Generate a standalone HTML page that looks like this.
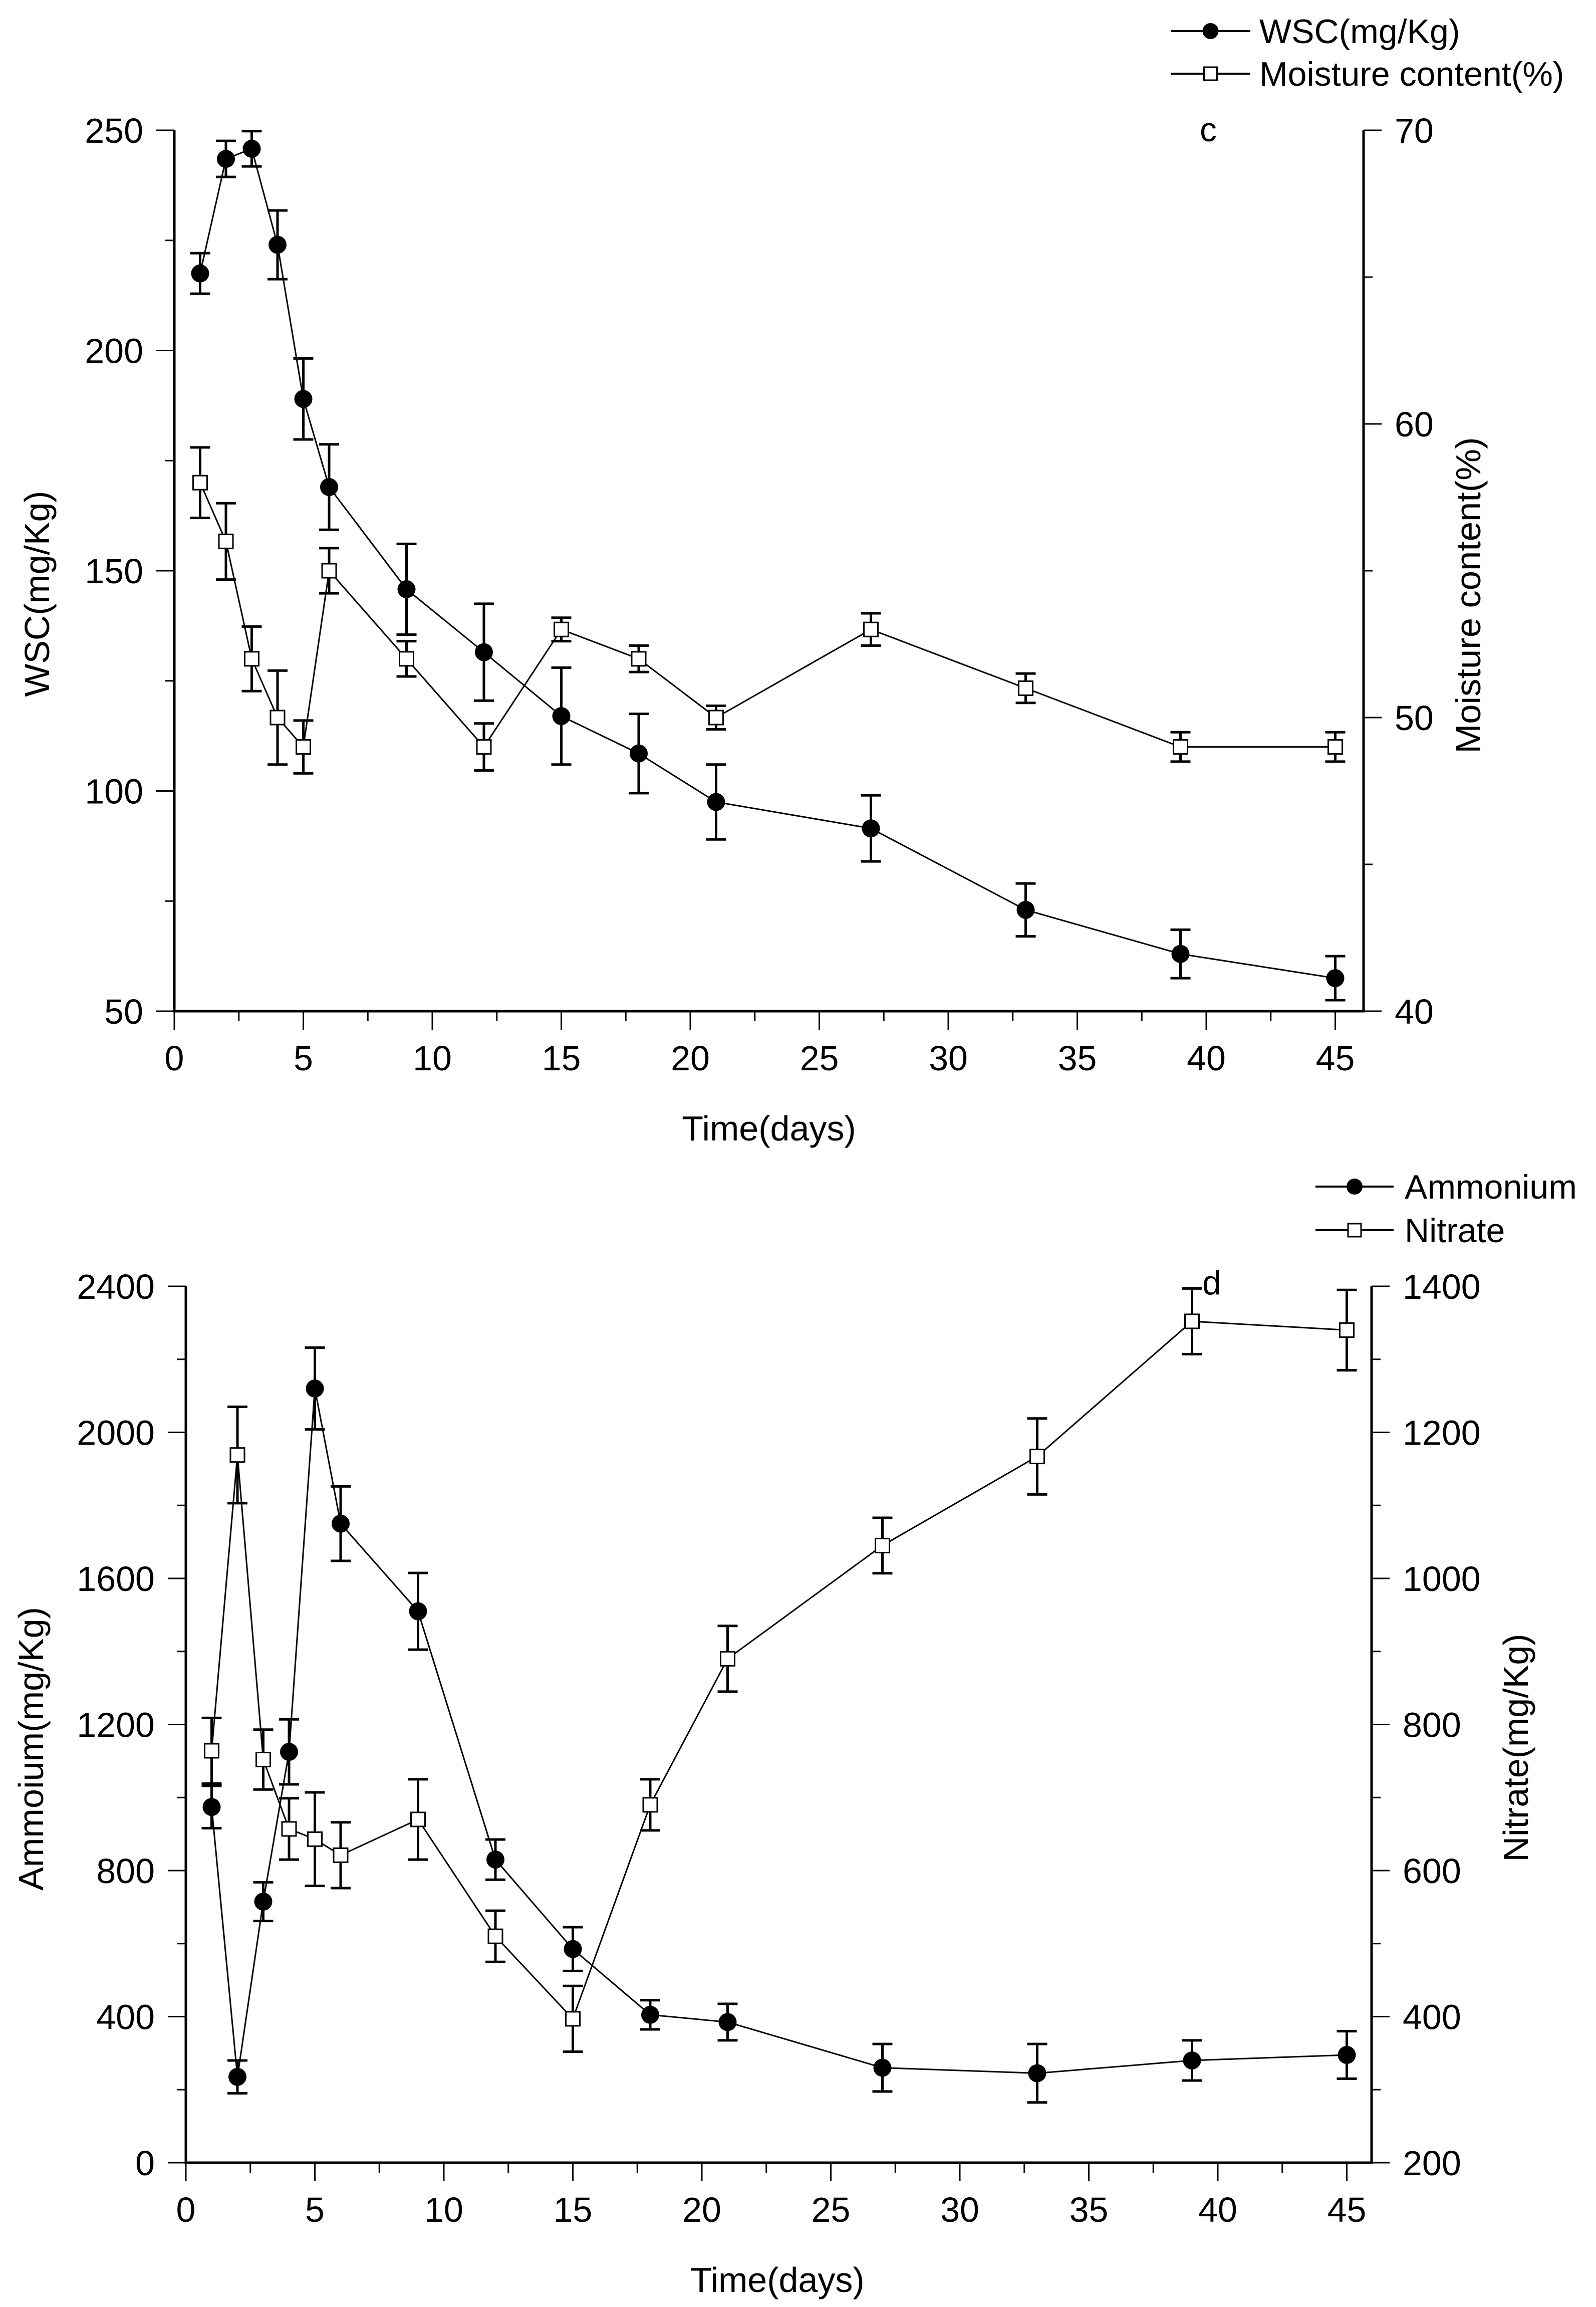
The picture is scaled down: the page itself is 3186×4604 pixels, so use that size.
<!DOCTYPE html>
<html><head><meta charset="utf-8"><style>
html,body{margin:0;padding:0;background:#fff}
svg{display:block}
text{font-family:"Liberation Sans",Arial,sans-serif;fill:#000}
</style></head>
<body>
<svg id="fig" xmlns="http://www.w3.org/2000/svg" width="3186" height="4604" viewBox="0 0 3186 4604">
<rect width="3186" height="4604" fill="#fff"/>
<g id="top"></g>
<g id="bot"></g>
</svg>
<script>
const days = [1,2,3,4,5,6,9,12,15,18,21,27,33,39,45];
const wscValues = [217.5,243.5,245.8,224,189,169,145.8,131.5,117,108.5,97.5,91.5,73,63,57.5];
const wscErrors = [4.6,4.1,4,7.8,9.2,9.7,10.3,11,11,9,8.5,7.5,6,5.5,5];
const moistureValues = [58,56,52,50,49,55,52,49,53,52,50,53,51,49,49];
const moistureErrors = [1.2,1.3,1.1,1.6,0.9,0.77,0.6,0.8,0.4,0.45,0.4,0.55,0.5,0.5,0.5];
const ammoniumValues = [974,235,715,1125,2120,1750,1510,830,585,405,385,260,245,280,295];
const ammoniumErrors = [58,45,53,89,112,102,105,55,60,40,50,65,80,55,65];
const nitrateValues = [764,1169,752,657,643,621,670,510,397,690,890,1045,1167,1352,1340];
const nitrateErrors = [45,66,41,42,64,45,55,35,45,35,45,38,52,45,55];
const xTicks = [0,5,10,15,20,25,30,35,40,45];
const wscTicks = [50,100,150,200,250];
const moistureTicks = [40,50,60,70];
const ammoniumTicks = [0,400,800,1200,1600,2000,2400];
const nitrateTicks = [200,400,600,800,1000,1200,1400];

const NS="http://www.w3.org/2000/svg";
function mk(parent,tag,attrs,txt){const e=document.createElementNS(NS,tag);for(const k in attrs)e.setAttribute(k,attrs[k]);if(txt!==undefined)e.textContent=txt;parent.appendChild(e);return e;}

function chart(g,cfg){
  const X=d=>cfg.x0+d*cfg.dx;
  const YL=v=>cfg.bottom-(v-cfg.lmin)/(cfg.lmax-cfg.lmin)*(cfg.bottom-cfg.top);
  const YR=v=>cfg.bottom-(v-cfg.rmin)/(cfg.rmax-cfg.rmin)*(cfg.bottom-cfg.top);
  // axes
  const ax=mk(g,'path',{d:`M${cfg.left},${cfg.top}V${cfg.bottom}H${cfg.right}V${cfg.top}`,fill:'none',stroke:'#000','stroke-width':5});
  
  
  // x ticks
  for(let d=0;d<=45;d+=2.5){const maj=d%5===0;mk(g,'line',{x1:X(d),x2:X(d),y1:cfg.bottom,y2:cfg.bottom+(maj?37:20),stroke:'#000','stroke-width':3});}
  xTicks.forEach(t=>{const e=mk(g,'text',{x:X(t),y:cfg.bottom+118,'font-size':70,'text-anchor':'middle'},String(t));
    
    });
  // left ticks
  const lstep=cfg.lTicks[1]-cfg.lTicks[0];
  for(let v=cfg.lmin;v<=cfg.lmax+1e-6;v+=lstep/2){const maj=Math.abs(((v-cfg.lmin)/lstep)%1)<1e-6;mk(g,'line',{x1:cfg.left,x2:cfg.left-(maj?36:18),y1:YL(v),y2:YL(v),stroke:'#000','stroke-width':3});}
  cfg.lTicks.forEach(t=>{const e=mk(g,'text',{x:cfg.left-62,y:YL(t)+25,'font-size':70,'text-anchor':'end'},String(t));
    
    });
  const rstep=cfg.rTicks[1]-cfg.rTicks[0];
  for(let v=cfg.rmin;v<=cfg.rmax+1e-6;v+=rstep/2){const maj=Math.abs(((v-cfg.rmin)/rstep)%1)<1e-6;mk(g,'line',{x1:cfg.right,x2:cfg.right+(maj?36:18),y1:YR(v),y2:YR(v),stroke:'#000','stroke-width':3});}
  cfg.rTicks.forEach(t=>{const e=mk(g,'text',{x:cfg.right+62,y:YR(t)+25,'font-size':70,'text-anchor':'start'},String(t));
    
    });
  // titles
  let e=mk(g,'text',{x:cfg.xtX,y:cfg.bottom+258,'font-size':70,'text-anchor':'middle'},'Time(days)');
  
  
  e=mk(g,'text',{x:0,y:0,'font-size':70,'text-anchor':'middle',transform:`translate(${cfg.ltX},${cfg.ltY}) rotate(-90)`,textLength:cfg.ltLen,lengthAdjust:'spacingAndGlyphs'},cfg.lTitle);
  
  
  e=mk(g,'text',{x:0,y:0,'font-size':70,'text-anchor':'middle',transform:`translate(${cfg.rtX},${cfg.rtY}) rotate(-90)`,textLength:cfg.rtLen,lengthAdjust:'spacingAndGlyphs'},cfg.rTitle);
  
  
  e=mk(g,'text',{x:cfg.panelX,y:cfg.panelY,'font-size':68},cfg.panel);
  
  
  // series
  function series(vals,errs,Y,filled,name){
    const sg=mk(g,'g',{});
    
    
    vals.forEach((v,i)=>{const x=X(days[i]),y1=Y(v+errs[i]),y2=Y(v-errs[i]);
      mk(sg,'path',{d:`M${x-20},${y1}H${x+20}M${x},${y1}V${y2}M${x-20},${y2}H${x+20}`,stroke:'#000','stroke-width':5,fill:'none'});});
    const l=mk(sg,'polyline',{points:vals.map((v,i)=>X(days[i])+','+Y(v)).join(' '),fill:'none',stroke:'#000','stroke-width':3});
    
    
    vals.forEach((v,i)=>{let m;
      if(filled)m=mk(sg,'circle',{cx:X(days[i]),cy:Y(v),r:18,fill:'#000'});
      else m=mk(sg,'rect',{x:X(days[i])-14,y:Y(v)-14,width:28,height:28,fill:'#fff',stroke:'#000','stroke-width':3});
      
      });
  }
  series(cfg.lVals,cfg.lErr,YL,true,cfg.lName);
  series(cfg.rVals,cfg.rErr,YR,false,cfg.rName);
  // legend
  cfg.legend.forEach((it,k)=>{const lg=mk(g,'g',{});
    
    
    const y=cfg.legY[k];
    mk(lg,'line',{x1:cfg.legX1,x2:cfg.legX2,y1:y,y2:y,stroke:'#000','stroke-width':4});
    const mx=(cfg.legX1+cfg.legX2)/2;
    if(it.filled)mk(lg,'circle',{cx:mx,cy:y,r:16,fill:'#000'});
    else mk(lg,'rect',{x:mx-13,y:y-13,width:26,height:26,fill:'#fff',stroke:'#000','stroke-width':3});
    mk(lg,'text',{x:cfg.legTX,y:y+24,'font-size':68},it.label);});
}

chart(document.getElementById('top'),{
  x0:348,dx:51.5,left:348,right:2722,top:260,bottom:2018,
  lmin:50,lmax:250,rmin:40,rmax:70,lTicks:wscTicks,rTicks:moistureTicks,
  xtX:1535,lTitle:'WSC(mg/Kg)',ltX:98,ltY:1185,ltLen:411,
  rTitle:'Moisture content(%)',rtX:2955,rtY:1188,rtLen:631,
  panel:'c',panelX:2395,panelY:282,
  lVals:wscValues,lErr:wscErrors,rVals:moistureValues,rErr:moistureErrors,lName:'wsc',rName:'moisture',
  legend:[{filled:true,label:'WSC(mg/Kg)'},{filled:false,label:'Moisture content(%)'}],
  legY:[62,147],legX1:2337,legX2:2496,legTX:2514
});
chart(document.getElementById('bot'),{
  x0:371,dx:51.5,left:371,right:2738,top:2567,bottom:4316,
  lmin:0,lmax:2400,rmin:200,rmax:1400,lTicks:ammoniumTicks,rTicks:nitrateTicks,
  xtX:1552,lTitle:'Ammoium(mg/Kg)',ltX:86,ltY:3490,ltLen:566,
  rTitle:'Nitrate(mg/Kg)',rtX:3050,rtY:3488,rtLen:455,
  panel:'d',panelX:2400,panelY:2583,
  lVals:ammoniumValues,lErr:ammoniumErrors,rVals:nitrateValues,rErr:nitrateErrors,lName:'ammonium',rName:'nitrate',
  legend:[{filled:true,label:'Ammonium'},{filled:false,label:'Nitrate'}],
  legY:[2368,2455],legX1:2626,legX2:2782,legTX:2804
});
</script>
</body></html>
